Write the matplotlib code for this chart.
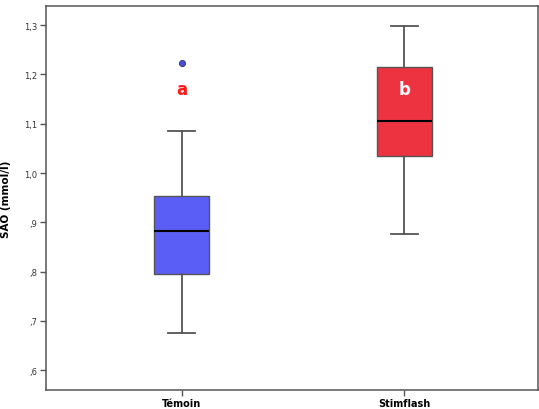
import matplotlib
matplotlib.use("Agg")
import matplotlib.pyplot as plt

groups = ["Témoin", "Stimflash"]
q1 = [0.795, 1.035]
median = [0.882, 1.105]
q3 = [0.953, 1.215]
whislo = [0.675, 0.876]
whishi = [1.086, 1.299]
outliers = [[1.223], []]
letters = ["a", "b"]
letter_y = [1.17, 1.171]
colors = ["#5b5ef6", "#ee3340"]
letter_colors = ["#ff1a1a", "white"]
yticks = [0.6, 0.7, 0.8, 0.9, 1.0, 1.1, 1.2, 1.3]

fig = plt.figure(figsize=(5.39, 4.10), dpi=100)
ax = fig.add_axes([0.0853, 0.0463, 0.9127, 0.9367])

stats = []
for i, g in enumerate(groups):
    stats.append(dict(label=g, q1=q1[i], med=median[i], q3=q3[i],
                      whislo=whislo[i], whishi=whishi[i], fliers=outliers[i]))

pos = [1, 2]
bp = ax.bxp(stats, positions=pos, widths=0.247, patch_artist=True,
            showfliers=True,
            boxprops=dict(linewidth=1, edgecolor="#555555"),
            medianprops=dict(color="black", linewidth=1.5),
            whiskerprops=dict(color="#555555", linewidth=1.3),
            capprops=dict(color="#555555", linewidth=1.3),
            flierprops=dict(marker="o", markersize=4.5, markerfacecolor="#4b4fd8",
                            markeredgecolor="#333377", markeredgewidth=0.6))
for patch, c in zip(bp["boxes"], colors):
    patch.set_facecolor(c)
for cap in bp["caps"]:
    x = cap.get_xdata()
    c = (x[0] + x[1]) / 2
    cap.set_xdata([c - 0.06, c + 0.06])

for i in range(len(groups)):
    ax.text(pos[i], letter_y[i], letters[i], color=letter_colors[i],
            fontsize=12, fontweight="bold", ha="center", va="center")

ax.set_xlim(0.39, 2.6)
ax.set_ylim(0.560, 1.339)
ax.set_yticks(yticks)
def fmt(v):
    s = f"{v:.1f}".replace(".", ",")
    if s.startswith("0"):
        s = s[1:]
    return s
ax.set_yticklabels([fmt(v) for v in yticks], fontsize=6, color="#333333")
ax.set_xticks(pos)
ax.set_xticklabels(groups, fontsize=7, fontweight="bold")
ax.tick_params(axis="y", direction="out", length=4, width=1, color="#555555", pad=2)
ax.tick_params(axis="x", direction="out", length=4, width=1, color="#555555", pad=1.5)
for s in ax.spines.values():
    s.set_color("#555555")
    s.set_linewidth(1.1)
ax.set_ylabel("SAO (mmol/l)", fontsize=7.5, fontweight="bold", labelpad=10)

fig.savefig("out.png", dpi=100)
